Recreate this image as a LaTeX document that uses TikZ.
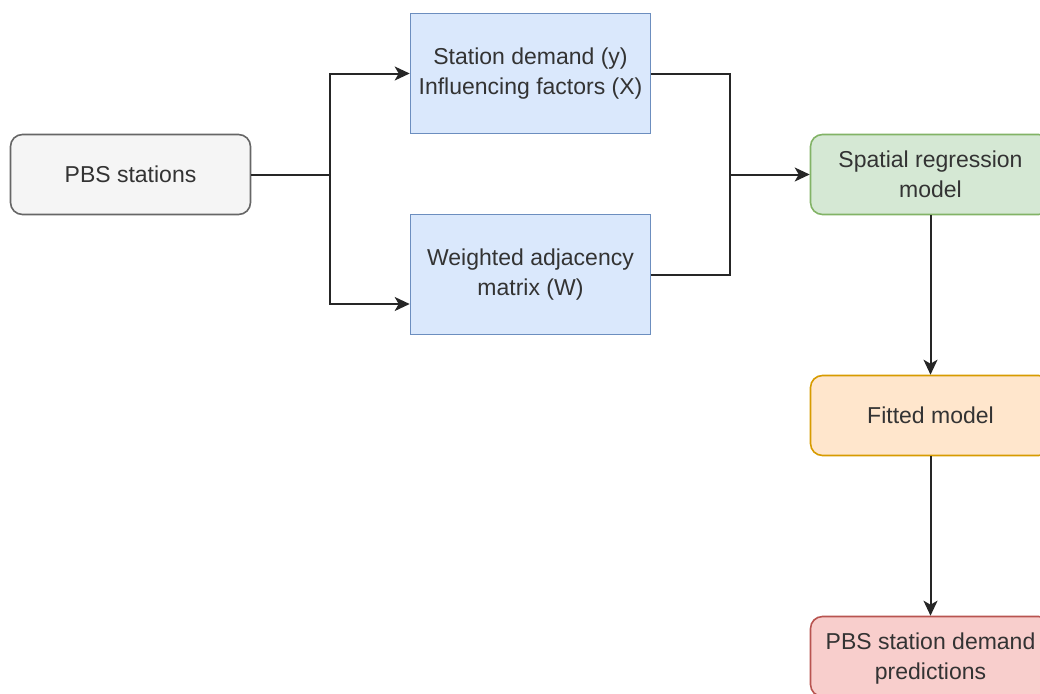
\documentclass[tikz,border=0pt]{standalone}
\usepackage{fontspec}
\setmainfont{Liberation Sans}
\usetikzlibrary{arrows.meta}
\definecolor{txt}{HTML}{333333}
\definecolor{grayfill}{HTML}{F5F5F5}
\definecolor{graydraw}{HTML}{666666}
\definecolor{bluefill}{HTML}{DAE8FC}
\definecolor{bluedraw}{HTML}{6C8EBF}
\definecolor{greenfill}{HTML}{D5E8D4}
\definecolor{greendraw}{HTML}{82B366}
\definecolor{orangefill}{HTML}{FFE6CC}
\definecolor{orangedraw}{HTML}{D79B00}
\definecolor{redfill}{HTML}{F8CECC}
\definecolor{reddraw}{HTML}{B85450}
\tikzset{
  box/.style={draw, line width=1.6pt, minimum width=240pt, inner sep=0pt,
    text=txt, align=center,
    font=\fontsize{23}{30}\selectfont},
  rbox/.style={box, rounded corners=12pt},
  conn/.style={line width=2pt, draw=black!85},
  arr/.style={conn, -{Stealth[length=15pt, width=14pt, inset=4pt]}},
}
\begin{document}
\begin{tikzpicture}[x=1pt, y=-1pt]
\useasboundingbox (0,0) rectangle (1040,693);
\clip (0,0) rectangle (1040,693);

\node[rbox, fill=grayfill, draw=graydraw, minimum height=80pt] (pbs) at (130.5,174.5) {PBS stations};
\node[box, fill=bluefill, draw=bluedraw, minimum height=120pt] (sd) at (530.5,73.5) {Station demand (y)\\Influencing factors (X)};
\node[box, fill=bluefill, draw=bluedraw, minimum height=120pt] (wam) at (530.5,274.5) {Weighted adjacency\\matrix (W)};
\node[rbox, fill=greenfill, draw=greendraw, minimum height=80pt] (srm) at (930.5,174.5) {Spatial regression\\model};
\node[rbox, fill=orangefill, draw=orangedraw, minimum height=80pt] (fm) at (930.5,415.5) {Fitted model};
\node[rbox, fill=redfill, draw=reddraw, minimum height=80pt, text depth=0pt] (pred) at (930.5,656.5) {PBS station demand\\predictions};

\coordinate (split) at (330,174.5);
\coordinate (join) at (730,174.5);

\draw[arr] (pbs.east) -- (split) |- (sd.west);
\draw[arr] (split) |- (wam.west |- 0,304);
\draw[conn] (sd.east) -| (join);
\draw[conn] (wam.east) -| (join);
\draw[arr] (join) -- (srm.west);
\draw[arr] (srm.south) -- (fm.north);
\draw[arr] (fm.south) -- (pred.north);
\end{tikzpicture}
\end{document}
